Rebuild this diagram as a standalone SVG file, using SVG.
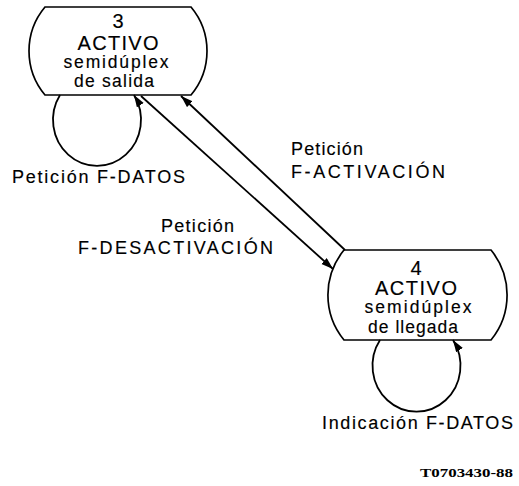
<svg xmlns="http://www.w3.org/2000/svg" width="519" height="486" viewBox="0 0 519 486">
<style>
.node{fill:none;stroke:#000;stroke-width:1.7}
.conn{fill:none;stroke:#000;stroke-width:1.8}
.t{font-family:"Liberation Sans",Arial,sans-serif;fill:#000;stroke:#000;stroke-width:0.15}
.big{font-size:20px}
.small{font-size:17.5px}
.lbl{font-size:18px}
.code{font-family:"Liberation Serif","Times New Roman",serif;font-weight:bold;font-size:13.5px;fill:#000}
</style>
<defs>
<marker id="ah" markerUnits="userSpaceOnUse" markerWidth="13" markerHeight="9" refX="12" refY="4" orient="auto">
<path d="M0,0 L12,4 L0,8 Z" fill="#000"/>
</marker>
</defs>
<rect width="519" height="486" fill="#fff"/>
<g id="node3">
<path class="node" d="M45,7 H191 A68.5 68.5 0 0 1 191,95 H45 A68.5 68.5 0 0 1 45,7 Z"/>
<text class="t big" x="118" y="28" text-anchor="middle">3</text>
<text class="t big" x="118" y="50" text-anchor="middle" textLength="81" lengthAdjust="spacing">ACTIVO</text>
<text class="t small" x="116" y="68" text-anchor="middle" textLength="105" lengthAdjust="spacing">semidúplex</text>
<text class="t small" x="114" y="87" text-anchor="middle" textLength="80" lengthAdjust="spacing">de salida</text>
</g>
<g id="node4">
<path class="node" d="M344,250 H491 A71 71 0 0 1 491,340 H344 A71 71 0 0 1 344,250 Z"/>
<text class="t big" x="416" y="275" text-anchor="middle">4</text>
<text class="t big" x="416" y="295" text-anchor="middle" textLength="82" lengthAdjust="spacing">ACTIVO</text>
<text class="t small" x="418" y="313" text-anchor="middle" textLength="107" lengthAdjust="spacing">semidúplex</text>
<text class="t small" x="413" y="333" text-anchor="middle" textLength="90" lengthAdjust="spacing">de llegada</text>
</g>
<g id="connectors">
<path class="conn" d="M60,95 A44 46 0 1 0 134,95" marker-end="url(#ah)"/>
<path class="conn" d="M380,340 A44 46 0 1 0 453,340" marker-end="url(#ah)"/>
<line class="conn" x1="141" y1="96" x2="333" y2="269" marker-end="url(#ah)"/>
<line class="conn" x1="345" y1="250" x2="181" y2="96" marker-end="url(#ah)"/>
</g>
<g id="labels">
<text class="t lbl" x="12" y="183" textLength="173" lengthAdjust="spacing">Petición F-DATOS</text>
<text class="t lbl" x="291" y="155" textLength="72" lengthAdjust="spacing">Petición</text>
<text class="t lbl" x="291" y="178" textLength="154" lengthAdjust="spacing">F-ACTIVACIÓN</text>
<text class="t lbl" x="161" y="232" textLength="73" lengthAdjust="spacing">Petición</text>
<text class="t lbl" x="273" y="254" text-anchor="end" textLength="195" lengthAdjust="spacing">F-DESACTIVACIÓN</text>
<text class="t lbl" x="322" y="429" textLength="191" lengthAdjust="spacing">Indicación F-DATOS</text>
<text class="code" x="420" y="477" textLength="93" lengthAdjust="spacingAndGlyphs">T0703430-88</text>
</g>
</svg>
